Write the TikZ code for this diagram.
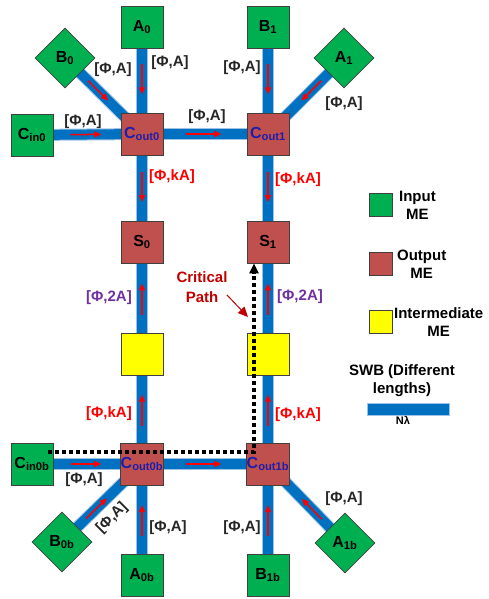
\documentclass[tikz,border=0pt]{standalone}
\usepackage{fontspec}
\setmainfont{Liberation Sans}
\usetikzlibrary{arrows.meta, positioning, calc, shapes.geometric, backgrounds}

\definecolor{meGreen}{RGB}{0,176,80}
\definecolor{meRed}{RGB}{192,80,77}
\definecolor{meYellow}{RGB}{255,255,0}
\definecolor{swbBlue}{RGB}{0,112,192}
\definecolor{swbEdge}{RGB}{155,195,232}
\definecolor{flowRed}{RGB}{255,0,0}
\definecolor{labPurple}{RGB}{112,48,160}
\definecolor{coutBlue}{RGB}{30,30,170}
\definecolor{critRed}{RGB}{192,0,0}

\begin{document}
\begin{tikzpicture}[
  x=1pt, y=-1pt,
  font=\fontsize{15}{18}\selectfont\bfseries,
  mebox/.style={rectangle, draw=black!75, line width=0.8pt,
        minimum size=42pt, inner sep=0pt,
        font=\fontsize{16}{18}\selectfont\bfseries},
  inbox/.style={mebox, fill=meGreen},
  indiamond/.style={diamond, draw=black!75, line width=0.8pt, fill=meGreen,
        minimum size=60pt, inner sep=0pt,
        font=\fontsize{16}{18}\selectfont\bfseries},
  outbox/.style={mebox, fill=meRed},
  coutbox/.style={outbox, text=coutBlue},
  midbox/.style={mebox, fill=meYellow},
  legbox/.style={minimum size=23pt},
  swb/.style={swbBlue, line width=10pt,
        preaction={draw, swbEdge, line width=12pt}},
  flow/.style={-{Triangle[length=7pt,width=6pt]}, flowRed, line width=1.5pt},
  lab/.style={text=black!85},
  labk/.style={text=flowRed},
  lab2/.style={text=labPurple},
  critpath/.style={-{Triangle[length=10pt,width=9pt]}, black, line width=3.2pt,
        dash pattern=on 4pt off 3pt},
]
\useasboundingbox (0,0) rectangle (488,599);

% --- top row: inputs and output MEs ---
\node[inbox] (A0) at (142,27) {A\textsubscript{0}};
\node[inbox] (B1) at (268,27) {B\textsubscript{1}};
\node[indiamond] (B0) at (65,58) {B\textsubscript{0}};
\node[indiamond] (A1) at (344,58) {A\textsubscript{1}};
\node[inbox] (Cin0) at (32,135) {C\textsubscript{in0}};
\node[coutbox] (Cout0) at (142,134) {C\textsubscript{out0}};
\node[coutbox] (Cout1) at (268,134) {C\textsubscript{out1}};

% --- middle: sums and intermediate MEs ---
\node[outbox] (S0) at (142,242) {S\textsubscript{0}};
\node[outbox] (S1) at (268,242) {S\textsubscript{1}};
\node[midbox] (Y0) at (142,354) {};
\node[midbox] (Y1) at (268,354) {};

% --- bottom row ---
\node[inbox] (Cin0b) at (32,464) {C\textsubscript{in0b}};
\node[coutbox] (Cout0b) at (142,464) {C\textsubscript{out0b}};
\node[coutbox] (Cout1b) at (268,464) {C\textsubscript{out1b}};
\node[indiamond] (B0b) at (62,542) {B\textsubscript{0b}};
\node[indiamond] (A1b) at (345,543) {A\textsubscript{1b}};
\node[inbox] (A0b) at (142,575) {A\textsubscript{0b}};
\node[inbox] (B1b) at (268,575) {B\textsubscript{1b}};

% --- spin wave buses behind the MEs ---
\begin{scope}[on background layer]
  \foreach \src/\dst in {A0/Cout0, B0/Cout0, Cin0/Cout0, Cout0/Cout1,
      B1/Cout1, A1/Cout1, Cout0/S0, Cout1/S1, S0/Y0, S1/Y1,
      Y0/Cout0b, Y1/Cout1b, Cin0b/Cout0b, Cout0b/Cout1b,
      B0b/Cout0b, A0b/Cout0b, B1b/Cout1b, A1b/Cout1b}{
    \draw[swb] (\src.center) -- (\dst.center);
  }
\end{scope}

% --- propagation arrows on the buses ---
\foreach \src/\dst in {A0/Cout0, Cin0/Cout0, Cout0/Cout1, B1/Cout1,
    Cout0/S0, Cout1/S1, Y0/S0, Y1/S1, Cout0b/Y0, Cout1b/Y1,
    Cin0b/Cout0b, Cout0b/Cout1b, A0b/Cout0b, B1b/Cout1b}{
  \draw[flow] ($(\src)!0.35!(\dst)$) -- ($(\src)!0.63!(\dst)$);
}
\foreach \src/\dst in {B0/Cout0, A1/Cout1, B0b/Cout0b, A1b/Cout1b}{
  \draw[flow] ($(\src)!0.30!(\dst)$) -- ($(\src)!0.56!(\dst)$);
}

% --- phase / amplitude labels ---
\node[lab] (lA0) at (170,63) {[Φ,A]};
\node[lab] (lB0) at (113,70) {[Φ,A]};
\node[lab] (lCin0) at (83,122) {[Φ,A]};
\node[lab] (lC01) at (207,117) {[Φ,A]};
\node[lab] (lB1) at (242,68) {[Φ,A]};
\node[lab] (lA1) at (344,104) {[Φ,A]};
\node[labk] (lS0) at (172,177) {[Φ,kA]};
\node[labk] (lS1) at (298,180) {[Φ,kA]};
\node[lab2] (lY0) at (109,298) {[Φ,2A]};
\node[lab2] (lY1) at (300,297) {[Φ,2A]};
\node[labk] (lY0b) at (109,414) {[Φ,kA]};
\node[labk] (lY1b) at (298,415) {[Φ,kA]};
\node[lab] (lCin0b) at (84,480) {[Φ,A]};
\node[lab, rotate=45] (lB0b) at (112,518) {[Φ,A]};
\node[lab] (lA0b) at (168,528) {[Φ,A]};
\node[lab] (lB1b) at (242,528) {[Φ,A]};
\node[lab] (lA1b) at (344,499) {[Φ,A]};

% --- critical path ---
\coordinate (cpStart) at (48,452);
\coordinate (cpTurn) at (254,452);
\draw[critpath] (cpStart) -- (cpTurn) -- (cpTurn |- S1.south);

\node[text=critRed, align=center] (critTxt) at (202,287) {Critical\\[2pt]Path};
\coordinate (critTip) at (248,317);
\draw[critRed, line width=1pt, -{Triangle[length=10pt,width=9pt]}]
   ($(critTxt.east)+(-4,8)$) -- (critTip);

% --- legend ---
\node[inbox, legbox] (legIn) at (381,205) {};
\node[right=5pt of legIn, align=center, inner sep=1pt] (legInTxt) {Input\\ME};
\node[outbox, legbox] (legOut) at (381,264) {};
\node[right=3pt of legOut, align=center, inner sep=1pt] (legOutTxt) {Output\\ME};
\node[midbox, legbox] (legMid) at (381,322) {};
\node[right=0pt of legMid, align=center, inner sep=1pt] (legMidTxt) {Intermediate\\ME};

\node[align=center] (swbTxt) at (402,381) {SWB (Different\\lengths)};
\node[fill=swbBlue, draw=swbEdge, line width=0.6pt, minimum width=82pt,
      minimum height=12pt, inner sep=0pt] (swbBar) at (408,409) {};
\node[below=0pt of swbBar, xshift=-5pt, inner sep=1pt,
      font=\fontsize{11}{12}\selectfont\bfseries] (swbN) {Nλ};

\end{tikzpicture}
\end{document}
